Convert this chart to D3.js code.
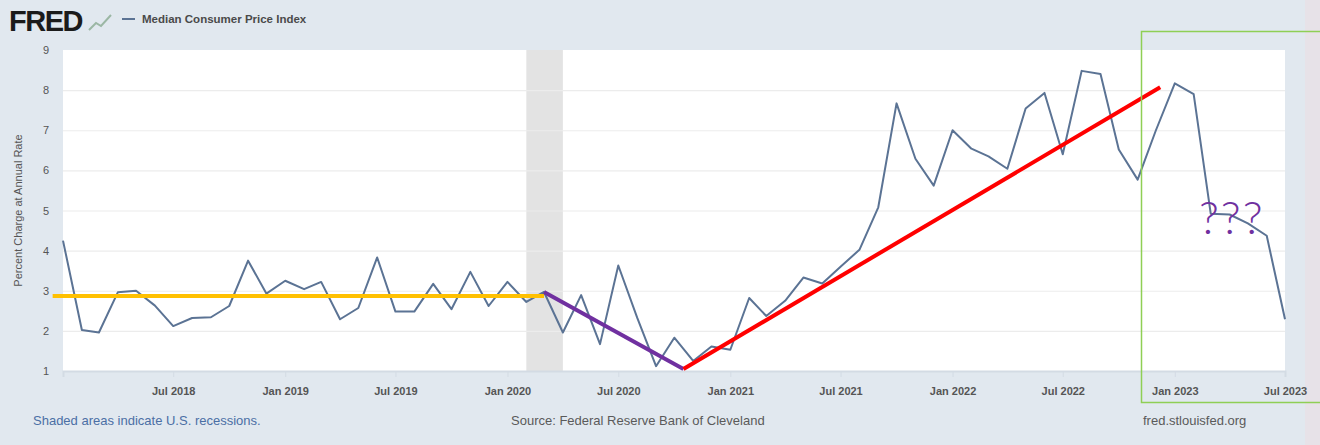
<!DOCTYPE html>
<html>
<head>
<meta charset="utf-8">
<script src="https://cdn.jsdelivr.net/npm/d3@7"></script>
<style>
  body { margin: 0; background: #e1e8ef; }
  svg { display: block; font-family: "Liberation Sans", Arial, sans-serif; }
  .tick text { fill: #555; font-size: 11px; }
</style>
</head>
<body>
<svg id="chart" width="1320" height="445"></svg>
<script>
// monthly values, Jan 2018 .. Jul 2023
const startMonth = '2018-01'
const cpiValues = [
  4.25, 2.02, 1.96, 2.96, 3.0, 2.63, 2.12, 2.32, 2.34, 2.62, 3.75, 2.93,
  3.25, 3.04, 3.22, 2.29, 2.57, 3.83, 2.48, 2.48, 3.17, 2.54, 3.47, 2.62,
  3.22, 2.72, 2.97, 1.96, 2.89, 1.67, 3.63, 2.33, 1.12, 1.83, 1.25, 1.61,
  1.53, 2.82, 2.37, 2.75, 3.33, 3.18, 3.6, 4.02, 5.08, 7.67, 6.29, 5.62,
  7.0, 6.54, 6.35, 6.04, 7.54, 7.93, 6.4, 8.48, 8.4, 6.52, 5.77, 7.0,
  8.17, 7.9, 4.92, 4.9, 4.68, 4.37, 2.29
]
const recession = ['2020-02-01', '2020-04-01']
const yTicks = [1, 2, 3, 4, 5, 6, 7, 8, 9]
const xTickDates = ['2018-07', '2019-01', '2019-07', '2020-01', '2020-07', '2021-01',
  '2021-07', '2022-01', '2022-07', '2023-01', '2023-07']

// hand drawn trend lines on top of the chart
const flatLine = [['2017-12-15', 2.87], ['2020-03-01', 2.87]]
const dropLine = [['2020-03-01', 2.97], ['2020-10-16', 1.05]]
const riseLine = [['2020-10-16', 1.05], ['2022-12-08', 8.07]]

const parseMonth = d3.timeParse('%Y-%m')
const parseDay = d3.timeParse('%Y-%m-%d')

const svg = d3.select('#chart')

const margin = { top: 50, right: 35, bottom: 74, left: 63 }
const width = 1320 - margin.left - margin.right
const height = 445 - margin.top - margin.bottom

const first = parseMonth(startMonth)
const data = cpiValues.map((v, i) => ({ date: d3.timeMonth.offset(first, i), value: v }))

const x = d3.scaleTime()
  .domain([data[0].date, data[data.length - 1].date])
  .range([0, width])
const y = d3.scaleLinear().domain([1, 9]).range([height, 0])

// page background pieces
svg.append('rect').attr('x', 1305).attr('y', 0).attr('width', 15).attr('height', 445).attr('fill', '#e7e2e8')

const g = svg.append('g').attr('transform', `translate(${margin.left},${margin.top})`)

g.append('rect').attr('width', width).attr('height', height).attr('fill', '#fff')

g.append('rect')
  .attr('x', x(parseDay(recession[0])))
  .attr('width', x(parseDay(recession[1])) - x(parseDay(recession[0])))
  .attr('height', height)
  .attr('fill', '#e3e3e3')

// grid + y labels
const yAxis = g.append('g')
  .call(d3.axisLeft(y).tickValues(yTicks).tickSize(-width).tickPadding(14))
yAxis.select('.domain').remove()
yAxis.selectAll('line').attr('stroke', '#ececec').attr('stroke-width', 1.2)
yAxis.selectAll('.tick').filter(d => d === 1 || d === 9).select('line').remove()
yAxis.selectAll('text').attr('fill', '#666')

const xAxis = g.append('g')
  .attr('transform', `translate(0,${height})`)
  .call(d3.axisBottom(x).tickValues(xTickDates.map(parseMonth)).tickFormat(d3.timeFormat('%b %Y')).tickSize(6).tickPadding(10))
xAxis.select('.domain').attr('stroke', '#d3dbe4').attr('stroke-width', 2)
xAxis.selectAll('line').attr('stroke', '#d3dbe4')
xAxis.selectAll('text').attr('font-weight', 'bold').attr('fill', '#666')

const line = d3.line().x(d => x(d.date)).y(d => y(d.value))

g.append('path')
  .datum(data)
  .attr('d', line)
  .attr('fill', 'none')
  .attr('stroke', '#5b7394')
  .attr('stroke-width', 2)
  .attr('stroke-linejoin', 'round')

const trend = d3.line().x(d => x(parseDay(d[0]))).y(d => y(d[1]))
const trends = [
  { pts: flatLine, color: '#ffc000' },
  { pts: dropLine, color: '#7030a0' },
  { pts: riseLine, color: '#ff0000' }
]
g.selectAll('.trend')
  .data(trends)
  .enter()
  .append('path')
  .attr('d', d => trend(d.pts))
  .attr('fill', 'none')
  .attr('stroke', d => d.color)
  .attr('stroke-width', 4)

// y title
svg.append('text')
  .text('Percent Charge at Annual Rate')
  .attr('transform', `translate(22, ${margin.top + height / 2}) rotate(-90)`)
  .attr('text-anchor', 'middle')
  .attr('font-size', 11)
  .attr('fill', '#555')

// header
svg.append('text').text('FRED')
  .attr('x', 9).attr('y', 31)
  .attr('font-size', 29).attr('font-weight', 900)
  .attr('letter-spacing', -1.5)
  .attr('fill', '#1b1b1b')
svg.append('path')
  .attr('d', 'M89,30 L96,23 L101,26 L111,15')
  .attr('fill', 'none').attr('stroke', '#9bb7a4').attr('stroke-width', 2)
svg.append('line')
  .attr('x1', 122).attr('x2', 135).attr('y1', 19).attr('y2', 19)
  .attr('stroke', '#5b7394').attr('stroke-width', 2)
svg.append('text').text('Median Consumer Price Index')
  .attr('x', 142).attr('y', 23)
  .attr('font-size', 11.5).attr('font-weight', 'bold')
  .attr('fill', '#4a4a4a')

// footer
svg.append('text').text('Shaded areas indicate U.S. recessions.')
  .attr('x', 33).attr('y', 425).attr('font-size', 13).attr('fill', '#4b6fa5')
svg.append('text').text('Source: Federal Reserve Bank of Cleveland')
  .attr('x', 511).attr('y', 425).attr('font-size', 13).attr('fill', '#5a5a5a')
svg.append('text').text('fred.stlouisfed.org')
  .attr('x', 1143).attr('y', 425).attr('font-size', 13).attr('fill', '#5a5a5a')

// green box and question marks
svg.append('rect')
  .attr('x', 1141.5).attr('y', 31.5).attr('width', 200).attr('height', 371)
  .attr('fill', 'none').attr('stroke', '#8fcf55').attr('stroke-width', 1.5)
svg.append('text').text('???')
  .attr('x', 1199).attr('y', 234)
  .attr('font-family', 'Lato, sans-serif')
  .attr('font-weight', 300)
  .attr('font-size', 46)
  .attr('letter-spacing', 2)
  .attr('fill', '#7030a0')
</script>
</body>
</html>
